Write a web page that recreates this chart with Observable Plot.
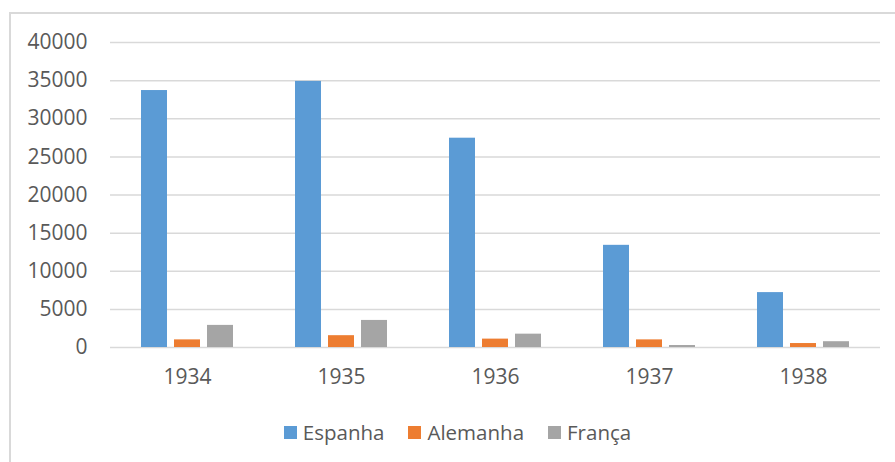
<!DOCTYPE html>
<html>
<head>
<meta charset="utf-8">
<script src="https://cdn.jsdelivr.net/npm/d3@7"></script>
<script src="https://cdn.jsdelivr.net/npm/@observablehq/plot@0.6"></script>
<style>
  html, body { margin: 0; padding: 0; background: #fff; }
  #wrap { position: relative; width: 895px; height: 462px; overflow: hidden; font-family: "Open Sans", sans-serif; }
  #frame { position: absolute; left: 9px; top: 12px; width: 900px; height: 460px;
           border-left: 2px solid #d9d9d9; border-top: 2px solid #d9d9d9; box-sizing: border-box; }
  #chart { position: absolute; left: 0; top: 0; }
  #legend { position: absolute; left: 10px; width: 895px; top: 418px; display: flex; justify-content: center;
            gap: 24px; color: #595959; font-size: 20.5px; line-height: 28px; }
  .item { display: flex; align-items: center; gap: 6px; }
  .sw { width: 13px; height: 13px; display: inline-block; }
</style>
</head>
<body>
<div id="wrap">
  <div id="frame"></div>
  <div id="chart"></div>
  <div id="legend"></div>
</div>
<script>
// Years on the category axis and the three countries compared
const years = ["1934", "1935", "1936", "1937", "1938"];
const series = ["Espanha", "Alemanha", "França"];
const colors = ["#5B9BD5", "#ED7D31", "#A5A5A5"];

// Values per country, one per year
const espanha = [33700, 34900, 27450, 13400, 7200];
const alemanha = [1000, 1550, 1100, 1000, 520];
const franca = [2900, 3550, 1750, 260, 760];

const yTicks = [0, 5000, 10000, 15000, 20000, 25000, 30000, 35000, 40000];

const valuesBySeries = [espanha, alemanha, franca];
const rows = [];
years.forEach((year, i) => {
  series.forEach((s, j) => rows.push({year, serie: s, value: valuesBySeries[j][i]}));
});

const chart = Plot.plot({
  width: 895,
  height: 400,
  marginTop: 42,
  marginBottom: 53,
  marginLeft: 110,
  marginRight: 15,
  style: {fontFamily: "Open Sans, sans-serif", fontSize: "21px", color: "#595959", background: "transparent"},
  fx: {domain: years, padding: 0, label: null},
  x: {domain: series, paddingInner: 0.206, paddingOuter: 0.868, axis: null},
  y: {domain: [0, 40000], label: null},
  color: {domain: series, range: colors},
  marks: [
    Plot.gridY(yTicks, {stroke: "#d9d9d9", strokeOpacity: 1, strokeWidth: 1.5}),
    Plot.axisY(yTicks, {tickSize: 0, tickPadding: 23, tickFormat: d => String(d), fill: "#595959", fontSize: 21}),
    Plot.axisFx({anchor: "bottom", tickSize: 0, tickPadding: 22, fill: "#595959", fontSize: 21, label: null}),
    Plot.barY(rows, {fx: "year", x: "serie", y: "value", fill: "serie"})
  ]
});
document.getElementById("chart").appendChild(chart);

// Legend below the plot
const legend = document.getElementById("legend");
series.forEach((s, j) => {
  const item = document.createElement("div");
  item.className = "item";
  const sw = document.createElement("span");
  sw.className = "sw";
  sw.style.background = colors[j];
  const label = document.createElement("span");
  label.textContent = s;
  item.appendChild(sw);
  item.appendChild(label);
  legend.appendChild(item);
});
</script>
</body>
</html>
